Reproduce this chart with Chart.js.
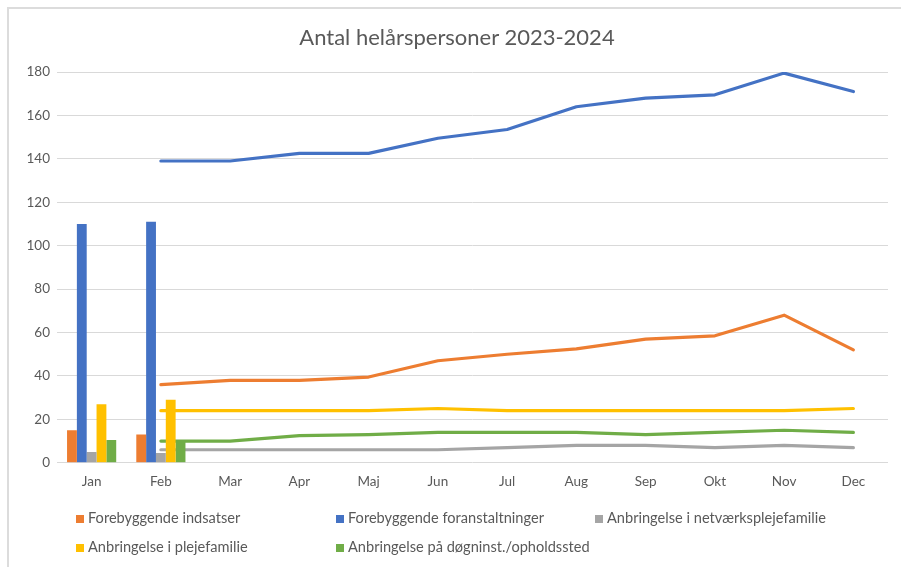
<!DOCTYPE html>
<html>
<head>
<meta charset="utf-8">
<script src="https://cdn.jsdelivr.net/npm/chart.js@4"></script>
<style>
  html, body { margin: 0; padding: 0; background: #fff; overflow: hidden; }
  #wrap { position: relative; width: 901px; height: 567px; overflow: hidden; }
  #frame { position: absolute; left: 7px; top: 7px; width: 894px; height: 560px;
           border-top: 2px solid #dcdcdc; border-left: 2px solid #dcdcdc; box-sizing: border-box; }
  canvas { position: absolute; left: 0; top: 0; }
  #title { position: absolute; left: 157px; width: 600px; top: 23px; text-align: center;
           font-family: Lato, "Liberation Sans", sans-serif; font-size: 22px; line-height: 27px;
           color: #595959; white-space: nowrap; }
  #legend { position: absolute; left: 0; top: 0; font-family: Lato, "Liberation Sans", sans-serif;
            font-size: 14.6px; color: #595959; }
  .item { position: absolute; white-space: nowrap; line-height: 16px; }
  .sw { display: inline-block; width: 8px; height: 8px; margin-right: 4px; vertical-align: 0px; }
</style>
</head>
<body>
<div id="wrap">
  <div id="frame"></div>
  <canvas id="c" width="901" height="567"></canvas>
  <div id="title">Antal helårspersoner 2023-2024</div>
  <div id="legend"></div>
</div>
<script>
const months = ['Jan','Feb','Mar','Apr','Maj','Jun','Jul','Aug','Sep','Okt','Nov','Dec'];
const seriesNames = ['Forebyggende indsatser','Forebyggende foranstaltninger','Anbringelse i netværksplejefamilie','Anbringelse i plejefamilie','Anbringelse på døgninst./opholdssted'];
const seriesColors = ['#ED7D31','#4472C4','#A5A5A5','#FFC000','#70AD47'];

// Bars (Jan, Feb)
const barIndsatser       = [15, 13, null, null, null, null, null, null, null, null, null, null];
const barForanstaltninger= [110, 111, null, null, null, null, null, null, null, null, null, null];
const barNetvaerk        = [5, 4.5, null, null, null, null, null, null, null, null, null, null];
const barPlejefamilie    = [27, 29, null, null, null, null, null, null, null, null, null, null];
const barDoegn           = [10.5, 10, null, null, null, null, null, null, null, null, null, null];

// Lines (Feb - Dec)
const lineIndsatser       = [null, 36, 38, 38, 39.5, 47, 50, 52.5, 57, 58.5, 68, 52];
const lineForanstaltninger= [null, 139, 139, 142.5, 142.5, 149.5, 153.5, 164, 168, 169.5, 179.5, 171];
const lineNetvaerk        = [null, 6, 6, 6, 6, 6, 7, 8, 8, 7, 8, 7];
const linePlejefamilie    = [null, 24, 24, 24, 24, 25, 24, 24, 24, 24, 24, 25];
const lineDoegn           = [null, 10, 10, 12.5, 13, 14, 14, 14, 13, 14, 15, 14];

const yTicks = [0, 20, 40, 60, 80, 100, 120, 140, 160, 180];

const barData = [barIndsatser, barForanstaltninger, barNetvaerk, barPlejefamilie, barDoegn];
const lineData = [lineIndsatser, lineForanstaltninger, lineNetvaerk, linePlejefamilie, lineDoegn];

const datasets = [];
barData.forEach((d, i) => datasets.push({
  type: 'bar', label: seriesNames[i], data: d,
  backgroundColor: seriesColors[i], borderWidth: 0, order: 1,
  categoryPercentage: 0.71, barPercentage: 1.0
}));
lineData.forEach((d, i) => datasets.push({
  type: 'line', label: seriesNames[i] + ' (linje)', data: d,
  borderColor: seriesColors[i], backgroundColor: seriesColors[i],
  borderWidth: 3.2, pointRadius: 0, tension: 0, spanGaps: false,
  borderCapStyle: 'round', borderJoinStyle: 'round', order: 2
}));

const FONT = 'Lato, "Liberation Sans", sans-serif';
const GRAY = '#595959';

new Chart(document.getElementById('c'), {
  type: 'bar',
  data: { labels: months, datasets },
  options: {
    responsive: false,
    animation: false,
    layout: { padding: { left: 0, right: 13, top: 72, bottom: 66 } },
    plugins: {
      legend: { display: false },
      tooltip: { enabled: false },
      title: { display: false }
    },
    scales: {
      x: {
        offset: true,
        grid: { display: false, drawTicks: false },
        border: { display: false },
        ticks: { color: GRAY, font: { family: FONT, size: 13.5 }, padding: 11, maxRotation: 0 }
      },
      y: {
        min: 0, max: 180,
        afterFit: (s) => { s.width = 57; },
        afterBuildTicks: (s) => { s.ticks = yTicks.map(v => ({ value: v })); },
        grid: { color: '#d9d9d9', lineWidth: 1, drawTicks: false },
        border: { display: false },
        ticks: { color: GRAY, font: { family: FONT, size: 13.5 }, padding: 7 }
      }
    }
  }
});

// HTML legend (bar series only)
const legendPos = [[76, 518], [336, 518], [595, 518], [76, 547], [336, 547]];
const lg = document.getElementById('legend');
seriesNames.forEach((n, i) => {
  const el = document.createElement('div');
  el.className = 'item';
  el.style.left = legendPos[i][0] + 'px';
  el.style.top = (legendPos[i][1] - 8) + 'px';
  el.innerHTML = '<span class="sw" style="background:' + seriesColors[i] + '"></span>' + n;
  lg.appendChild(el);
});
</script>
</body>
</html>
